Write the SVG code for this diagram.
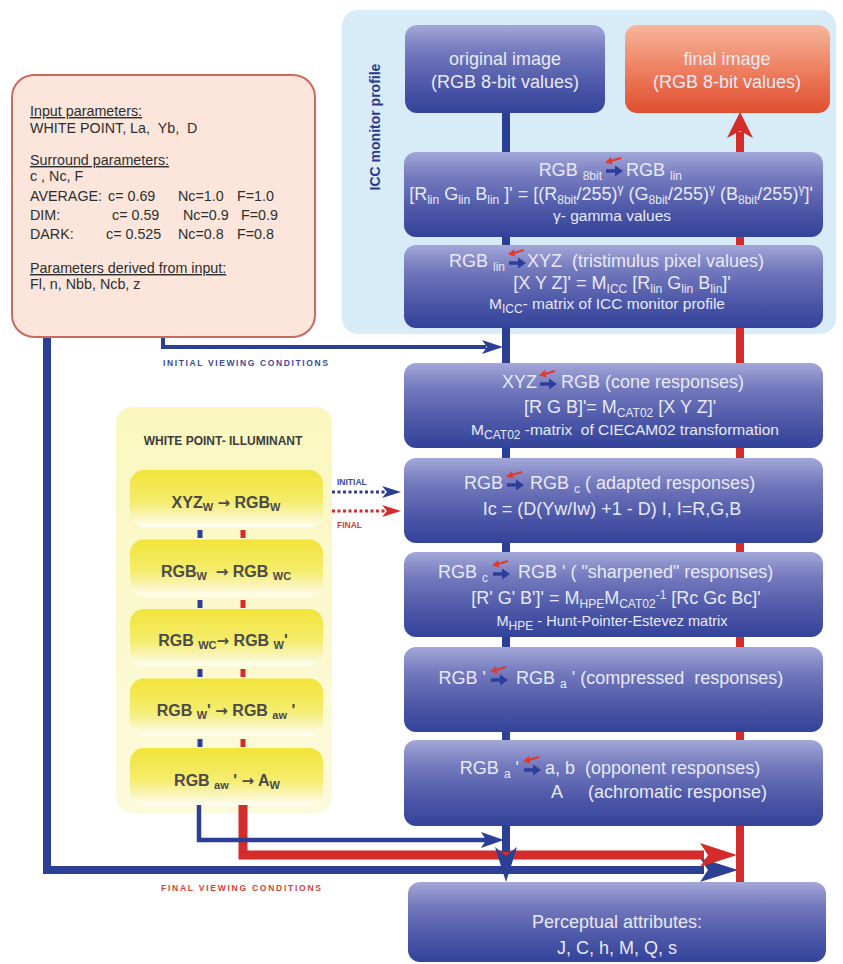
<svg xmlns="http://www.w3.org/2000/svg" width="843" height="964" viewBox="0 0 843 964">
<defs>
<linearGradient id="gBlue" x1="0" y1="0" x2="0" y2="1">
<stop offset="0" stop-color="#a3a7d8"/><stop offset="0.3" stop-color="#7379bd"/><stop offset="0.7" stop-color="#4b56a7"/><stop offset="1" stop-color="#33439a"/>
</linearGradient>
<linearGradient id="gRed" x1="0" y1="0" x2="0" y2="1">
<stop offset="0" stop-color="#f6b69c"/><stop offset="0.5" stop-color="#ee8061"/><stop offset="1" stop-color="#df4f2f"/>
</linearGradient>
<linearGradient id="gYel" x1="0" y1="0" x2="0" y2="1">
<stop offset="0" stop-color="#f1e43a"/><stop offset="0.55" stop-color="#f5ec6c"/><stop offset="0.85" stop-color="#faf6c4"/><stop offset="1" stop-color="#fffef4"/>
</linearGradient>
<linearGradient id="gPale" x1="0" y1="0" x2="0" y2="1">
<stop offset="0" stop-color="#fbf7bf"/><stop offset="1" stop-color="#fcfadc"/>
</linearGradient>
<g id="swap">
<path d="M16,2 L6,5" stroke="#e03a2e" stroke-width="2" fill="none"/>
<polygon points="0,6.5 6,1 7.5,8.5" fill="#e03a2e"/>
<path d="M1,15 H11" stroke="#2b3f9a" stroke-width="3.5" fill="none"/>
<polygon points="18,15 10,9.5 10,20.5" fill="#2b3f9a"/>
</g>
</defs>
<style>
.bx{fill:url(#gBlue)}
.bt{font-family:"Liberation Sans",Arial,sans-serif;font-size:18px;fill:#e8e9f6;text-anchor:middle}
.bt.l{text-anchor:start}
.bt.r{text-anchor:end}
.sm{font-size:15.5px}
.xs{font-size:14.5px}
.s{font-size:12px}
.pt{font-family:"Liberation Sans",Arial,sans-serif;font-size:14.3px;fill:#2e2e2e}
.yb{fill:url(#gYel)}
.yt{font-family:"Liberation Sans",Arial,sans-serif;font-size:16px;font-weight:bold;fill:#4a4a4a;text-anchor:middle}
.ys{font-size:11px}
.ar{font-family:"DejaVu Sans",sans-serif;font-size:15px}
.bl{fill:none;stroke:#2b3f94;stroke-linejoin:miter}
.rd{fill:none;stroke:#d42b2b;stroke-linejoin:miter}
.bh{fill:#2b3f94}
.rh{fill:#d42b2b}
.lab{font-family:"Liberation Sans",Arial,sans-serif;font-size:8.5px;font-weight:bold}
</style>
<g id="icc-panel"><rect x="342" y="10" width="494" height="324" rx="16" fill="#d7ecf7"/><text transform="translate(380,127) rotate(-90)" font-family="Liberation Sans,Arial,sans-serif" font-size="14" font-weight="bold" fill="#2b3a8a" text-anchor="middle">ICC monitor profile</text></g>
<g id="yellow-panel"><rect x="116" y="407" width="216" height="406" rx="16" fill="url(#gPale)"/><text x="223" y="445" font-family="Liberation Sans,Arial,sans-serif" font-size="12" font-weight="bold" fill="#3c3c3c" text-anchor="middle">WHITE POINT- ILLUMINANT</text></g>
<g id="connectors">
<path class="bl" d="M47,337 V870 H704" stroke-width="8"/>
<polygon class="bh" points="738,870 700,858 708,870 700,882"/>
<path class="rd" d="M243,805 V855 H704" stroke-width="9"/>
<polygon class="rh" points="737,855 700,843 708,855 700,867"/>
<path class="bl" d="M199,805 V840 H486" stroke-width="4.5"/>
<polygon class="bh" points="504,840 481,832 486,840 481,848"/>
<path class="bl" d="M163,337 V347 H486" stroke-width="4"/>
<polygon class="bh" points="503,347 482,340 487,347 482,354"/>
<path class="bl" d="M332,492 H386" stroke-width="3" stroke-dasharray="3,2.5"/>
<polygon class="bh" points="401,492 382,486 387,492 382,498"/>
<path class="rd" d="M332,511 H386" stroke-width="3" stroke-dasharray="3,2.5"/>
<polygon class="rh" points="401,511 382,505 387,511 382,517"/>
<path class="bl" d="M506,113 V152 M506,236 V246 M506,327 V364 M506,447 V459 M506,542 V553 M506,636 V648 M506,731 V741 M506,825 V852" stroke-width="8"/>
<polygon class="bh" points="506,882 495,847 506,856 517,847"/>
<path class="rd" d="M740,132 V152 M740,236 V246 M740,327 V364 M740,447 V459 M740,542 V553 M740,636 V648 M740,731 V741 M740,825 V882" stroke-width="8"/>
<polygon class="rh" points="740,112 727,138 740,131 753,138"/>
<path class="bl" d="M200,530 V538 M200,600 V608 M200,669 V677 M200,739 V747" stroke-width="5"/>
<path class="rd" d="M243,530 V538 M243,600 V608 M243,669 V677 M243,739 V747" stroke-width="5"/>
</g>
<g id="connector-labels"><text class="lab" x="163" y="366" fill="#3b4a9a" textLength="165" lengthAdjust="spacing">INITIAL VIEWING CONDITIONS</text><text class="lab" x="161" y="891" fill="#d0433a" textLength="160" lengthAdjust="spacing">FINAL VIEWING CONDITIONS</text><text class="lab" x="337" y="485" fill="#3b4a9a">INITIAL</text><text class="lab" x="337" y="528" fill="#d0433a">FINAL</text></g>
<g id="params">
<rect x="12" y="75" width="303" height="262" rx="22" fill="#fce6dc" stroke="#c96a5f" stroke-width="2"/>
<text class="pt" x="30" y="116" text-decoration="underline">Input parameters:</text>
<text class="pt" x="30" y="133">WHITE POINT, La,&#160; Yb,&#160; D</text>
<text class="pt" x="30" y="165" text-decoration="underline">Surround parameters:</text>
<text class="pt" x="30" y="181">c , Nc, F</text>
<text class="pt" x="30" y="201">AVERAGE:</text><text class="pt" x="108" y="201">c= 0.69</text><text class="pt" x="178" y="201">Nc=1.0</text><text class="pt" x="237" y="201">F=1.0</text>
<text class="pt" x="30" y="220">DIM:</text><text class="pt" x="112" y="220">c= 0.59</text><text class="pt" x="183" y="220">Nc=0.9</text><text class="pt" x="241" y="220">F=0.9</text>
<text class="pt" x="30" y="239">DARK:</text><text class="pt" x="106" y="239">c= 0.525</text><text class="pt" x="178" y="239">Nc=0.8</text><text class="pt" x="237" y="239">F=0.8</text>
<text class="pt" x="30" y="273" text-decoration="underline">Parameters derived from input:</text>
<text class="pt" x="30" y="289">Fl, n, Nbb, Ncb, z</text>
</g>
<g id="original-image"><rect class="bx" x="405" y="25" width="200" height="88" rx="12"/><text class="bt" x="505" y="65" font-size="16">original image</text><text class="bt" x="505" y="88" font-size="16">(RGB 8-bit values)</text></g>
<g id="final-image"><rect x="625" y="25" width="205" height="88" rx="12" fill="url(#gRed)"/><text class="bt" x="727" y="65" font-size="16" fill="#fde2d8">final image</text><text class="bt" x="727" y="88" font-size="16" fill="#fde2d8">(RGB 8-bit values)</text></g>
<g id="rgb8bit-rgblin">
<rect class="bx" x="404" y="152" width="419" height="85" rx="12"/>
<text class="bt r" x="602" y="176">RGB <tspan class="s" dy="4">8bit</tspan></text>
<use href="#swap" x="605" y="156"/>
<text class="bt l" x="626" y="176">RGB <tspan class="s" dy="4">lin</tspan></text>
<text class="bt" x="611" y="200">[R<tspan class="s" dy="4">lin</tspan><tspan dy="-4"> G</tspan><tspan class="s" dy="4">lin</tspan><tspan dy="-4"> B</tspan><tspan class="s" dy="4">lin</tspan><tspan dy="-4"> ]' = [(R</tspan><tspan class="s" dy="4">8bit</tspan><tspan dy="-4">/255)</tspan><tspan class="s" dy="-7">γ</tspan><tspan dy="7"> (G</tspan><tspan class="s" dy="4">8bit</tspan><tspan dy="-4">/255)</tspan><tspan class="s" dy="-7">γ</tspan><tspan dy="7"> (B</tspan><tspan class="s" dy="4">8bit</tspan><tspan dy="-4">/255)</tspan><tspan class="s" dy="-7">γ</tspan><tspan dy="7">]'</tspan></text>
<text class="bt sm" x="612" y="221">γ- gamma values</text>
</g>
<g id="rgblin-xyz">
<rect class="bx" x="404" y="245" width="419" height="83" rx="12"/>
<text class="bt r" x="505" y="267">RGB <tspan class="s" dy="4">lin</tspan></text>
<use href="#swap" x="508" y="248"/>
<text class="bt l" x="527" y="267">XYZ&#160; (tristimulus pixel values)</text>
<text class="bt" x="622" y="289">[X Y Z]' = M<tspan class="s" dy="4">ICC</tspan><tspan dy="-4"> [R</tspan><tspan class="s" dy="4">lin</tspan><tspan dy="-4"> G</tspan><tspan class="s" dy="4">lin</tspan><tspan dy="-4"> B</tspan><tspan class="s" dy="4">lin</tspan><tspan dy="-4">]'</tspan></text>
<text class="bt sm" x="607" y="309">M<tspan class="s" dy="4">ICC</tspan><tspan dy="-4">- matrix of ICC monitor profile</tspan></text>
</g>
<g id="xyz-rgb-cone">
<rect class="bx" x="404" y="363" width="419" height="85" rx="12"/>
<text class="bt r" x="537" y="388">XYZ</text>
<use href="#swap" x="539" y="369"/>
<text class="bt l" x="561" y="388">RGB (cone responses)</text>
<text class="bt" x="620" y="413">[R G B]'= M<tspan class="s" dy="4">CAT02</tspan><tspan dy="-4"> [X Y Z]'</tspan></text>
<text class="bt sm" x="625" y="435">M<tspan class="s" dy="4">CAT02</tspan><tspan dy="-4"> -matrix&#160; of CIECAM02 transformation</tspan></text>
</g>
<g id="adapted">
<rect class="bx" x="404" y="458" width="419" height="85" rx="12"/>
<text class="bt r" x="503" y="489">RGB</text>
<use href="#swap" x="506" y="470"/>
<text class="bt l" x="530" y="489">RGB <tspan class="s" dy="4">c</tspan><tspan dy="-4"> ( adapted responses)</tspan></text>
<text class="bt" x="612" y="515">Ic = (D(Yw/Iw) +1 - D) I, I=R,G,B</text>
</g>
<g id="sharpened">
<rect class="bx" x="404" y="552" width="419" height="85" rx="12"/>
<text class="bt r" x="488" y="578">RGB <tspan class="s" dy="4">c</tspan></text>
<use href="#swap" x="492" y="559"/>
<text class="bt l" x="518" y="578">RGB ' ( "sharpened" responses)</text>
<text class="bt" x="616" y="604">[R' G' B']' = M<tspan class="s" dy="4">HPE</tspan><tspan dy="-4">M</tspan><tspan class="s" dy="4">CAT02</tspan><tspan class="s" dy="-9">-1</tspan><tspan dy="5"> [Rc Gc Bc]'</tspan></text>
<text class="bt xs" x="612" y="626">M<tspan class="s" dy="4">HPE</tspan><tspan dy="-4"> - Hunt-Pointer-Estevez matrix</tspan></text>
</g>
<g id="compressed">
<rect class="bx" x="404" y="647" width="419" height="85" rx="12"/>
<text class="bt r" x="486" y="684">RGB '</text>
<use href="#swap" x="490" y="665"/>
<text class="bt l" x="516" y="684">RGB <tspan class="s" dy="4">a</tspan><tspan dy="-4"> ' (compressed&#160; responses)</tspan></text>
</g>
<g id="opponent">
<rect class="bx" x="404" y="740" width="419" height="86" rx="12"/>
<text class="bt r" x="519" y="774">RGB <tspan class="s" dy="4">a</tspan><tspan dy="-4"> '</tspan></text>
<use href="#swap" x="523" y="755"/>
<text class="bt l" x="545" y="774">a, b&#160; (opponent responses)</text>
<text class="bt l" x="551" y="798">A</text>
<text class="bt l" x="588" y="798">(achromatic response)</text>
</g>
<g id="perceptual"><rect class="bx" x="408" y="882" width="418" height="80" rx="12"/><text class="bt" x="617" y="928" font-size="22">Perceptual attributes:</text><text class="bt" x="617" y="954" font-size="21">J, C, h, M, Q, s</text></g>
<g id="wp1"><rect class="yb" x="130" y="470" width="193" height="57" rx="14"/><text class="yt" x="226" y="508">XYZ<tspan class="ys" dy="3">W</tspan><tspan dy="-3"> </tspan><tspan class="ar">→</tspan> RGB<tspan class="ys" dy="3">W</tspan></text></g>
<g id="wp2"><rect class="yb" x="130" y="539.5" width="193" height="57" rx="14"/><text class="yt" x="226" y="577">RGB<tspan class="ys" dy="3">W</tspan><tspan dy="-3">&#160; </tspan><tspan class="ar">→</tspan> RGB <tspan class="ys" dy="3">WC</tspan></text></g>
<g id="wp3"><rect class="yb" x="130" y="609" width="193" height="57" rx="14"/><text class="yt" x="223" y="646">RGB <tspan class="ys" dy="3">WC</tspan><tspan dy="-3" class="ar">→</tspan> RGB <tspan class="ys" dy="3">W</tspan><tspan dy="-3">'</tspan></text></g>
<g id="wp4"><rect class="yb" x="130" y="678.5" width="193" height="57" rx="14"/><text class="yt" x="226" y="716">RGB <tspan class="ys" dy="3">W</tspan><tspan dy="-3">' </tspan><tspan class="ar">→</tspan> RGB <tspan class="ys" dy="3">aw</tspan><tspan dy="-3"> '</tspan></text></g>
<g id="wp5"><rect class="yb" x="130" y="748" width="193" height="57" rx="14"/><text class="yt" x="227" y="786">RGB <tspan class="ys" dy="3">aw</tspan><tspan dy="-3"> ' </tspan><tspan class="ar">→</tspan> A<tspan class="ys" dy="3">W</tspan></text></g>
</svg>
